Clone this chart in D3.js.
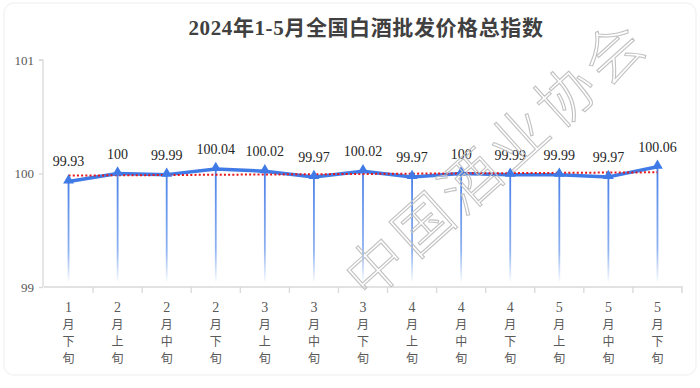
<!DOCTYPE html>
<html><head><meta charset="utf-8">
<script src="https://cdn.jsdelivr.net/npm/d3@7"></script>
<style>body{margin:0;background:#fff}svg{display:block}</style>
</head><body>
<svg id="c" width="700" height="388"></svg>
<script>
const title = "2024年1-5月全国白酒批发价格总指数";
const months = ["1","2","2","2","3","3","3","4","4","4","5","5","5"];
const periods = ["下","上","中","下","上","中","下","上","中","下","上","中","下"];
const values = [99.93,100,99.99,100.04,100.02,99.97,100.02,99.97,100,99.99,99.99,99.97,100.06];
const yTicks = [99,100,101];
const watermark = "中国酒业协会";

const svg = d3.select("#c");
const serif = "'Liberation Serif','Noto Sans CJK SC',serif";
const cjk = "'Noto Sans CJK SC','Liberation Serif',sans-serif";

// faint frame
svg.append("rect").attr("x",4).attr("y",3).attr("width",692).attr("height",372)
  .attr("rx",10).attr("fill","none").attr("stroke","#f4f4f4").attr("stroke-width",1.5);

const cats = values.map((v,i)=>i);
const x = d3.scaleBand().domain(cats).range([44,682]);
const y = d3.scaleLinear().domain([99,101]).range([287,60]);

// title
svg.append("text").attr("x",366).attr("y",35).attr("text-anchor","middle")
  .attr("font-family",serif).attr("font-size",21).attr("font-weight","bold")
  .attr("letter-spacing",0.6).attr("fill","#404040").text(title);

// y axis
const ya = svg.append("g").attr("transform","translate(43,0)")
  .call(d3.axisLeft(y).tickValues(yTicks).tickSize(4).tickFormat(d3.format("d")));
ya.select(".domain").attr("stroke","#d9d9d9").attr("stroke-width",1.3).attr("d",`M-4,${y(101)}H0V${y(99)}`);
ya.selectAll(".tick line").attr("stroke","#d9d9d9").attr("stroke-width",1.3);
ya.selectAll(".tick text").attr("font-family",serif).attr("font-size",13).attr("fill","#595959").attr("dx",-2);

// x axis
const xa = svg.append("g").attr("transform",`translate(0,${y(99)})`)
  .call(d3.axisBottom(x).tickSize(0).tickFormat(""));
xa.select(".domain").attr("stroke","#d9d9d9").attr("stroke-width",1.5).attr("d",`M44,0H682V6`);
const bounds = cats.slice(1).map(i=>x(i));
xa.selectAll("line.b").data(bounds).enter().append("line").attr("class","b")
  .attr("x1",d=>d).attr("x2",d=>d).attr("y1",0).attr("y2",6)
  .attr("stroke","#d9d9d9").attr("stroke-width",1.3);

// x labels vertical
cats.forEach(i=>{
  const cx = x(i)+x.bandwidth()/2;
  const chars = [months[i],"月",periods[i],"旬"];
  chars.forEach((ch,k)=>{
    svg.append("text").attr("x",cx).attr("y",312+k*17).attr("text-anchor","middle")
      .attr("font-family",k===0?serif:cjk).attr("font-size",k===0?14:12)
      .attr("fill","#595959").text(ch);
  });
});

// gradient for drop lines
const defs = svg.append("defs");
const g = defs.append("linearGradient").attr("id","dg").attr("x1",0).attr("y1",0).attr("x2",0).attr("y2",1);
g.append("stop").attr("offset","0%").attr("stop-color","#4a80e8");
g.append("stop").attr("offset","70%").attr("stop-color","#8fb2f0");
g.append("stop").attr("offset","100%").attr("stop-color","#ffffff");

const cxv = i => x(i)+x.bandwidth()/2;
svg.append("g").selectAll("rect").data(values).enter().append("rect")
  .attr("x",(d,i)=>cxv(i)-0.9).attr("width",1.8)
  .attr("y",d=>y(d)).attr("height",d=>283-y(d))
  .attr("fill","url(#dg)");

// trend line (linear regression of the series)
const n = values.length;
const mx = d3.mean(cats), my = d3.mean(values);
const slope = d3.sum(cats,i=>(i-mx)*(values[i]-my))/d3.sum(cats,i=>(i-mx)*(i-mx));
const icpt = my - slope*mx;

// main line
svg.append("path").datum(values)
  .attr("d",d3.line().x((d,i)=>cxv(i)).y(d=>y(d)))
  .attr("fill","none").attr("stroke","#3f7ae6").attr("stroke-width",3.5).attr("stroke-linejoin","round");

svg.append("line").attr("x1",cxv(0)).attr("x2",cxv(n-1))
  .attr("y1",y(icpt)).attr("y2",y(icpt+slope*(n-1)))
  .attr("stroke","#e8161b").attr("stroke-width",2).attr("stroke-dasharray","2,2.2");

// markers
const tri = d3.symbol().type(d3.symbolTriangle).size(50);
svg.append("g").selectAll("path").data(values).enter().append("path")
  .attr("d",tri).attr("transform",(d,i)=>`translate(${cxv(i)},${y(d)-1})`)
  .attr("fill","#3f7ae6");

// labels
svg.append("g").selectAll("text").data(values).enter().append("text")
  .attr("x",(d,i)=>cxv(i)).attr("y",d=>y(d)-15).attr("text-anchor","middle")
  .attr("font-family",serif).attr("font-size",14).attr("fill","#262626")
  .text(d=>d3.format("")(d));

// watermark
svg.append("text").attr("transform","translate(368,302) rotate(-42)")
  .attr("font-family",cjk).attr("font-size",58).attr("font-weight",200)
  .attr("letter-spacing",6)
  .attr("fill","none").attr("stroke","#c2c2c2").attr("stroke-width",1.1)
  .text(watermark);
</script>
</body></html>
